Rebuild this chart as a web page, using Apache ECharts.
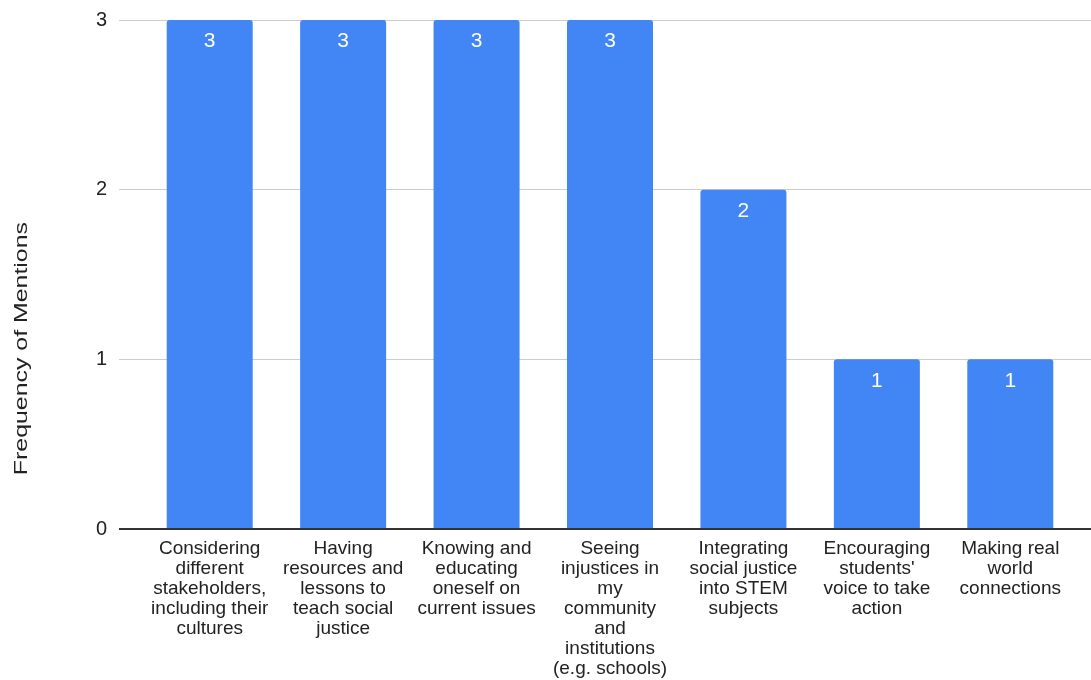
<!DOCTYPE html>
<html>
<head>
<meta charset="utf-8">
<script src="https://cdn.jsdelivr.net/npm/echarts@6/dist/echarts.min.js"></script>
<style>
  html, body { margin: 0; padding: 0; background: #fff; }
  #chart { width: 1091px; height: 680px; }
</style>
</head>
<body>
<div id="chart"></div>
<script>
const categories = [
  'Considering\ndifferent\nstakeholders,\nincluding their\ncultures',
  'Having\nresources and\nlessons to\nteach social\njustice',
  'Knowing and\neducating\noneself on\ncurrent issues',
  'Seeing\ninjustices in\nmy\ncommunity\nand\ninstitutions\n(e.g. schools)',
  'Integrating\nsocial justice\ninto STEM\nsubjects',
  'Encouraging\nstudents\'\nvoice to take\naction',
  'Making real\nworld\nconnections',
]
const mentions = [3, 3, 3, 3, 2, 1, 1]
const yTicks = [0, 1, 2, 3]

const font = 'Arial, "Liberation Sans", sans-serif'
const chart = echarts.init(document.getElementById('chart'))

chart.setOption({
  animation: false,
  textStyle: { fontFamily: font },
  grid: [
    // full-width grid for the value axis and gridlines
    { left: 119, right: 0, top: 20, bottom: 151 },
    // inset grid for the bars, like Google Charts padding
    { left: 143, right: 14, top: 20, bottom: 151 },
  ],
  xAxis: [
    {
      gridIndex: 0,
      type: 'value',
      axisLine: { show: false },
      axisTick: { show: false },
      axisLabel: { show: false },
      splitLine: { show: false },
    },
    {
      gridIndex: 1,
      type: 'category',
      data: categories,
      axisLine: { show: false },
      axisTick: { show: false },
      axisLabel: {
        interval: 0,
        color: '#222',
        fontSize: 19,
        lineHeight: 20,
        margin: 10,
        align: 'center',
      },
    },
  ],
  yAxis: [
    {
      gridIndex: 0,
      type: 'value',
      min: yTicks[0],
      max: yTicks[yTicks.length - 1],
      interval: 1,
      axisLine: { show: false },
      axisTick: { show: false },
      axisLabel: { color: '#222', fontSize: 20, margin: 12 },
      splitLine: { lineStyle: { color: '#cccccc', width: 1 } },
    },
    {
      gridIndex: 1,
      type: 'value',
      min: yTicks[0],
      max: yTicks[yTicks.length - 1],
      interval: 1,
      show: false,
    },
  ],
  graphic: [
    {
      type: 'text',
      left: 12,
      top: 222,
      rotation: Math.PI / 2,
      scaleX: 1.31,
      style: {
        text: 'Frequency of Mentions',
        fill: '#222',
        font: '19px ' + font,
      },
    },
  ],
  series: [
    {
      type: 'bar',
      xAxisIndex: 1,
      yAxisIndex: 1,
      data: mentions,
      barWidth: 86,
      itemStyle: { color: '#4285F4', borderRadius: [3, 3, 0, 0] },
      label: {
        show: true,
        position: 'insideTop',
        distance: 11,
        color: '#fff',
        fontSize: 21,
      },
    },
    {
      // dark baseline at zero across the full grid
      type: 'line',
      xAxisIndex: 0,
      yAxisIndex: 0,
      data: [],
      markLine: {
        silent: true,
        symbol: 'none',
        label: { show: false },
        lineStyle: { color: '#333', width: 2, type: 'solid' },
        data: [{ yAxis: 0 }],
      },
    },
  ],
})
</script>
</body>
</html>
